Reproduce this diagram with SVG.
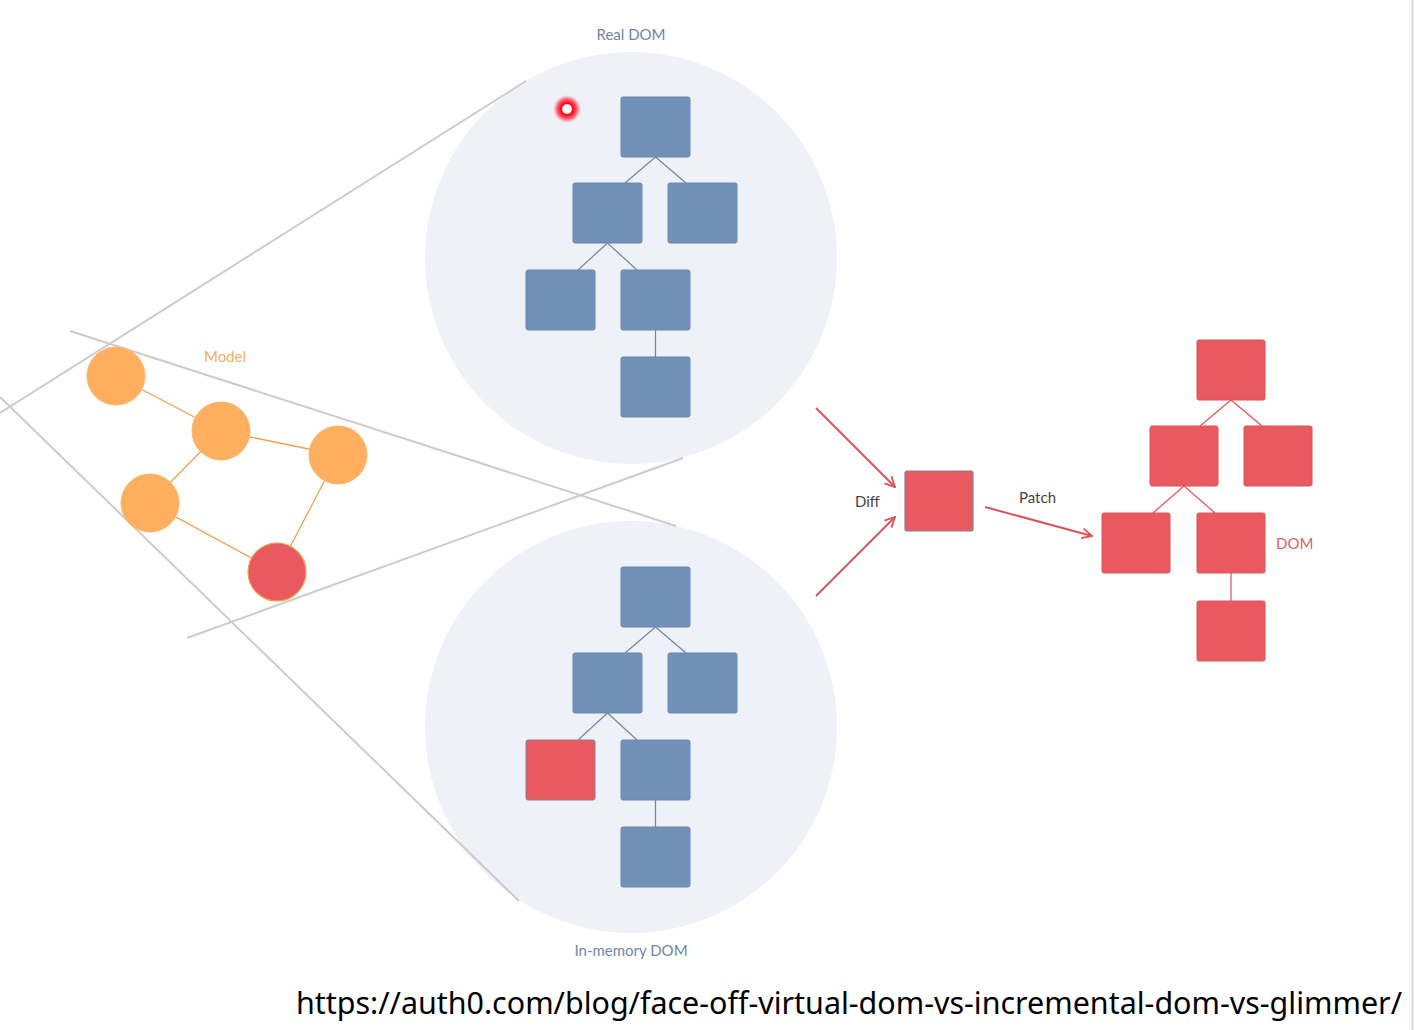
<svg xmlns="http://www.w3.org/2000/svg" width="1414" height="1030" viewBox="0 0 1414 1030">
<style>
.bg{fill:#eef1f8}
.b{fill:#7291b8;stroke:#6a88ad;stroke-width:1}
.r{fill:#e85a5f;stroke:#d9545a;stroke-width:1}
.o{fill:#ffaf5f;stroke:#fbb56c;stroke-width:1}
.guide{stroke:#cccccc;stroke-width:2;fill:none}
.bl{stroke:#6f87a7;stroke-width:1.2;fill:none}
.rl{stroke:#d9545a;stroke-width:1.2;fill:none}
.ol{stroke:#f0a050;stroke-width:1.3;fill:none}
.ar{stroke:#d9545a;stroke-width:2;fill:none}
.lbl{font-family:Lato,"Noto Sans",sans-serif;font-size:15px}
</style>
<defs>
<radialGradient id="glow">
<stop offset="0" stop-color="#ffffff"/>
<stop offset="0.3" stop-color="#ffffff"/>
<stop offset="0.4" stop-color="#ff0010"/>
<stop offset="0.7" stop-color="#ff2030" stop-opacity="0.7"/>
<stop offset="1" stop-color="#ff6070" stop-opacity="0"/>
</radialGradient>
<marker id="ah" viewBox="0 0 12 12" refX="11" refY="6" markerWidth="12" markerHeight="12" markerUnits="userSpaceOnUse" orient="auto">
<path d="M1,1 L11,6 L1,11" fill="none" stroke="#d9545a" stroke-width="1.8"/>
</marker>
</defs>
<rect width="1414" height="1030" fill="#ffffff"/>
<line x1="1412.5" y1="0" x2="1412.5" y2="1030" stroke="#d8d8d8" stroke-width="2"/>

<g id="real-dom">
<circle class="bg" cx="631" cy="258" r="206"/>
<text class="lbl" x="631" y="40" text-anchor="middle" fill="#6f86a8">Real DOM</text>
</g>
<g id="memory-dom">
<circle class="bg" cx="631" cy="727" r="206"/>
<text class="lbl" x="631" y="956" text-anchor="middle" fill="#6f86a8">In-memory DOM</text>
</g>

<g id="guides">
<line class="guide" x1="0" y1="413" x2="526" y2="81"/>
<line class="guide" x1="0" y1="397" x2="519" y2="901"/>
<line class="guide" x1="70" y1="331" x2="676" y2="526"/>
<line class="guide" x1="187" y1="638" x2="683" y2="458"/>
</g>

<g id="connectors">
<path class="bl" d="M655.5,157 L625,183 M655.5,157 L686,183 M607.5,243 L578,270 M607.5,243 L637,270 M655.5,330 L655.5,357"/>
<path class="bl" d="M655.5,627 L625,653 M655.5,627 L686,653 M607.5,713 L578,740 M607.5,713 L637,740 M655.5,800 L655.5,827"/>
<path class="rl" d="M1231,400 L1200,426 M1231,400 L1262,426 M1184,486 L1153,513 M1184,486 L1215,513 M1231,573 L1231,601"/>
<path class="ol" d="M116,376 L221,431 M221,431 L338,455 M221,431 L150,503 M150,503 L277,572 M338,455 L277,572"/>
<line class="ar" x1="816" y1="408" x2="895" y2="487" marker-end="url(#ah)"/>
<line class="ar" x1="816" y1="596" x2="895" y2="517" marker-end="url(#ah)"/>
<line class="ar" x1="985" y1="507" x2="1092" y2="536" marker-end="url(#ah)"/>
</g>

<g id="real-tree">
<rect class="b" x="621" y="97" width="69" height="60" rx="2"/>
<rect class="b" x="573" y="183" width="69" height="60" rx="2"/>
<rect class="b" x="668" y="183" width="69" height="60" rx="2"/>
<rect class="b" x="526" y="270" width="69" height="60" rx="2"/>
<rect class="b" x="621" y="270" width="69" height="60" rx="2"/>
<rect class="b" x="621" y="357" width="69" height="60" rx="2"/>
</g>

<g id="memory-tree">
<rect class="b" x="621" y="567" width="69" height="60" rx="2"/>
<rect class="b" x="573" y="653" width="69" height="60" rx="2"/>
<rect class="b" x="668" y="653" width="69" height="60" rx="2"/>
<rect x="526" y="740" width="69" height="60" rx="2" fill="#e85a5f" stroke="#8a7f92" stroke-width="1"/>
<rect class="b" x="621" y="740" width="69" height="60" rx="2"/>
<rect class="b" x="621" y="827" width="69" height="60" rx="2"/>
</g>

<g id="model">
<circle class="o" cx="116" cy="376" r="29"/>
<circle class="o" cx="221" cy="431" r="29"/>
<circle class="o" cx="338" cy="455" r="29"/>
<circle class="o" cx="150" cy="503" r="29"/>
<circle cx="277" cy="572" r="29" fill="#e85a5f" stroke="#f0a050" stroke-width="1.2"/>
<text class="lbl" x="204" y="362" fill="#f7ac62">Model</text>
</g>

<g id="diff">
<rect x="905" y="471" width="68" height="60" rx="2" fill="#e85a5f" stroke="#8a7f92" stroke-width="1.2"/>
<text class="lbl" x="855" y="507" fill="#444444">Diff</text>
<text class="lbl" x="1019" y="503" fill="#444444">Patch</text>
</g>

<g id="dom-tree">
<rect class="r" x="1197" y="340" width="68" height="60" rx="2"/>
<rect class="r" x="1150" y="426" width="68" height="60" rx="2"/>
<rect class="r" x="1244" y="426" width="68" height="60" rx="2"/>
<rect class="r" x="1102" y="513" width="68" height="60" rx="2"/>
<rect class="r" x="1197" y="513" width="68" height="60" rx="2"/>
<rect class="r" x="1197" y="601" width="68" height="60" rx="2"/>
<text class="lbl" x="1276" y="549" fill="#e06066">DOM</text>
</g>

<g id="pointer">
<circle cx="567" cy="109" r="14" fill="url(#glow)"/>
</g>

<text x="296" y="1014" font-family="'Noto Sans','Liberation Sans',sans-serif" font-size="30" fill="#000000" textLength="1106" lengthAdjust="spacingAndGlyphs">https://auth0.com/blog/face-off-virtual-dom-vs-incremental-dom-vs-glimmer/</text>
</svg>
